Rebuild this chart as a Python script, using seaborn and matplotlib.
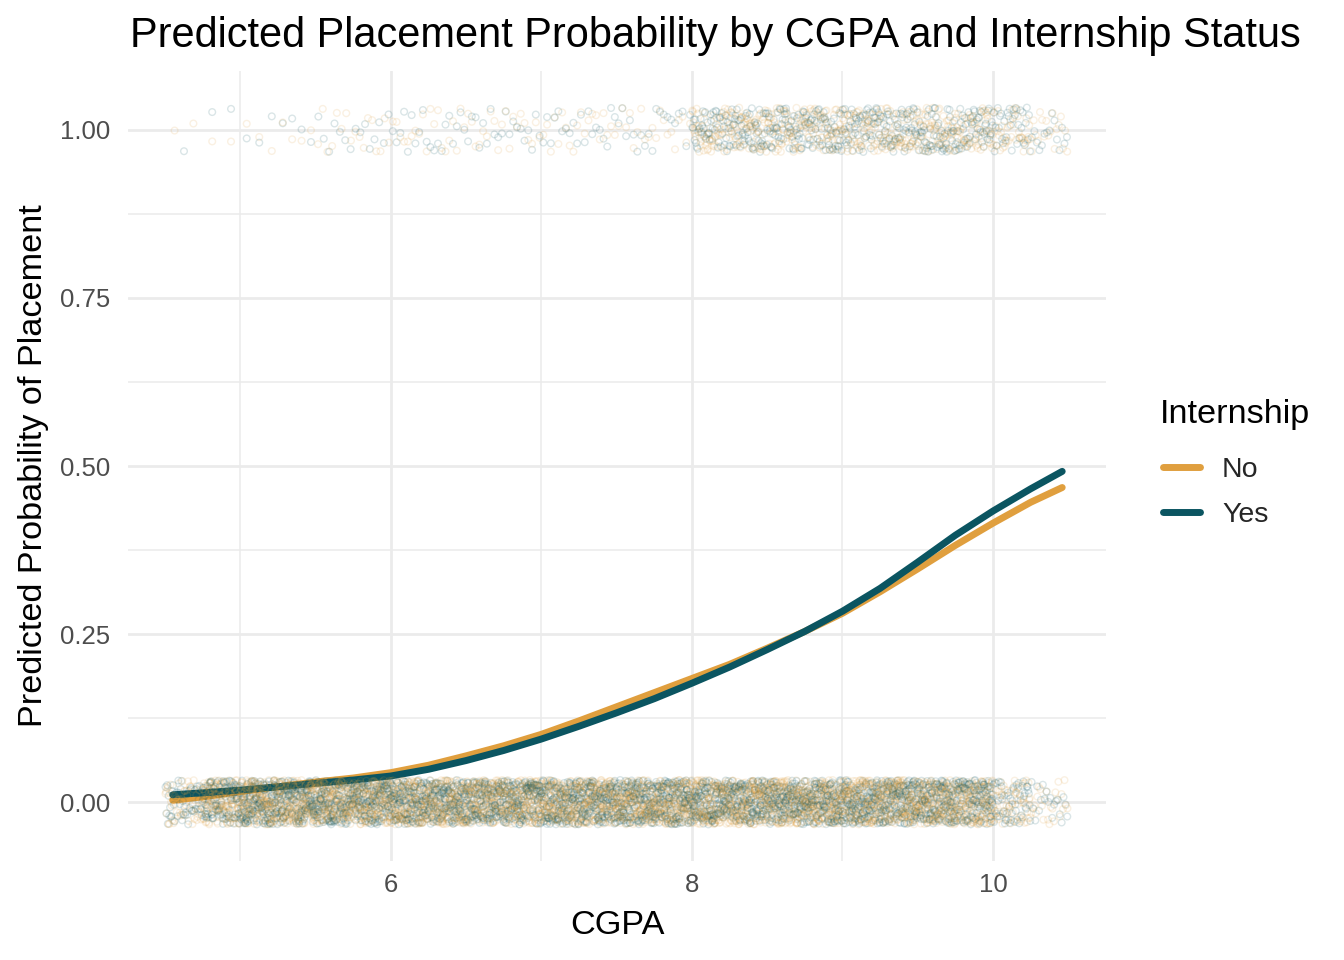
import numpy as np
import pandas as pd
import matplotlib
matplotlib.use("Agg")
import matplotlib.pyplot as plt
import seaborn as sns

# predicted probability curves
curve_cgpa = [4.55, 4.75, 5.0, 5.25, 5.5, 5.75, 6.0, 6.25, 6.5, 6.75, 7.0,
              7.25, 7.5, 7.75, 8.0, 8.25, 8.5, 8.75, 9.0, 9.25, 9.5, 9.75,
              10.0, 10.25, 10.46]
prob_no = [0.003, 0.008, 0.016, 0.023, 0.030, 0.036, 0.044, 0.055, 0.069,
           0.084, 0.101, 0.121, 0.142, 0.163, 0.184, 0.205, 0.229, 0.254,
           0.281, 0.313, 0.347, 0.382, 0.415, 0.446, 0.468]
prob_yes = [0.011, 0.014, 0.018, 0.023, 0.028, 0.033, 0.039, 0.049, 0.062,
            0.077, 0.094, 0.113, 0.133, 0.154, 0.177, 0.201, 0.227, 0.254,
            0.284, 0.318, 0.357, 0.397, 0.433, 0.466, 0.492]

# students per 0.25-wide CGPA bin (estimated from the point clouds)
bin_start = [4.5, 4.75, 5.0, 5.25, 5.5, 5.75, 6.0, 6.25, 6.5, 6.75, 7.0, 7.25,
             7.5, 7.75, 8.0, 8.25, 8.5, 8.75, 9.0, 9.25, 9.5, 9.75, 10.0, 10.25]
not_placed_no = [60, 145, 190, 195, 195, 195, 195, 195, 195, 195, 195, 195,
                 195, 195, 190, 190, 190, 190, 190, 190, 185, 160, 65, 25]
not_placed_yes = [50, 115, 150, 155, 155, 155, 155, 155, 155, 155, 155, 155,
                  155, 155, 150, 150, 150, 150, 150, 150, 145, 130, 55, 20]
placed_no = [2, 2, 3, 4, 8, 9, 10, 10, 10, 10, 10, 10,
             10, 10, 60, 65, 65, 65, 65, 65, 65, 60, 40, 18]
placed_yes = [1, 2, 3, 4, 7, 8, 10, 10, 10, 10, 10, 10,
              10, 10, 50, 55, 55, 55, 55, 55, 55, 50, 35, 15]

palette = {"No": "#E09F3E", "Yes": "#0B5561"}
bin_width = 0.25

# expand bin counts into individual students, spread evenly inside each bin
rows = []
for i, lo in enumerate(bin_start):
    for placed, counts in ((0, {"No": not_placed_no, "Yes": not_placed_yes}),
                           (1, {"No": placed_no, "Yes": placed_yes})):
        for status, vals in counts.items():
            n = vals[i]
            xs = lo + (np.arange(n) + 0.5) / n * bin_width
            for x in xs:
                rows.append((x, placed, status))
points = pd.DataFrame(rows, columns=["cgpa", "placed", "internship"])
points = points.sort_values("cgpa").reset_index(drop=True)

curves = pd.DataFrame({
    "cgpa": curve_cgpa + curve_cgpa,
    "prob": prob_no + prob_yes,
    "internship": ["No"] * len(curve_cgpa) + ["Yes"] * len(curve_cgpa),
})

sns.set_theme(style="white")
plt.rcParams["font.family"] = ["Liberation Sans", "DejaVu Sans"]

fig = plt.figure(figsize=(13.44, 9.6), dpi=100)
ax = fig.add_axes([128 / 1344, 98.6 / 960, 978 / 1344, 790.8 / 960])

sns.stripplot(data=points, x="cgpa", y="placed", hue="internship",
              hue_order=["No", "Yes"], palette=palette, orient="y",
              native_scale=True, jitter=0.033, size=4.8, alpha=0.15,
              legend=False, ax=ax)
# open circles like the original
for coll in ax.collections:
    fc = coll.get_facecolors()
    coll.set_edgecolors(fc)
    coll.set_facecolors("none")
    coll.set_linewidth(1.0)

sns.lineplot(data=curves, x="cgpa", y="prob", hue="internship",
             hue_order=["No", "Yes"], palette=palette, lw=5.0, ax=ax)

ax.set_xlim(4.253, 10.751)
ax.set_ylim(-0.088, 1.088)
ax.set_xticks([6, 8, 10])
ax.set_xticklabels(["6", "8", "10"])
ax.set_xticks([5, 7, 9], minor=True)
ax.set_yticks([0, 0.25, 0.5, 0.75, 1.0])
ax.set_yticklabels(["0.00", "0.25", "0.50", "0.75", "1.00"])
ax.set_yticks([0.125, 0.375, 0.625, 0.875], minor=True)
ax.set_axisbelow(True)
ax.grid(which="major", color="#EBEBEB", linewidth=2.0)
ax.grid(which="minor", color="#EBEBEB", linewidth=1.1)
for s in ax.spines.values():
    s.set_visible(False)
ax.tick_params(which="both", length=0, labelsize=18.5, labelcolor="#4D4D4D")
ax.tick_params(axis="x", pad=8)
ax.tick_params(axis="y", pad=13)

ax.set_xlabel("CGPA", fontsize=24.7, color="black")
ax.xaxis.set_label_coords(0.5, -0.062)
ax.xaxis.label.set_va("top")
ax.set_ylabel("Predicted Probability of Placement", fontsize=24.7, color="black")
ax.yaxis.set_label_coords(-0.097, 0.5)
ax.yaxis.label.set_va("center")

fig.text(130 / 1344, 1 - 47 / 960,
         "Predicted Placement Probability by CGPA and Internship Status",
         fontsize=29.9, color="black", ha="left", va="baseline")

# legend: title as its own text, entries below it
fig.text(1160 / 1344, 1 - 423 / 960, "Internship", fontsize=24.7,
         color="black", ha="left", va="baseline")
handles, labels = ax.get_legend_handles_labels()
for h in handles:
    h.set_linewidth(5.0)
leg = ax.legend(handles, labels, loc="center left",
                bbox_to_anchor=(1163 / 1344, 1 - 492.5 / 960),
                bbox_transform=fig.transFigure, frameon=False,
                fontsize=20.5, handlelength=1.3, handletextpad=0.77,
                labelspacing=0.69, borderpad=0, borderaxespad=0)

fig.savefig("out.png", dpi=100)
